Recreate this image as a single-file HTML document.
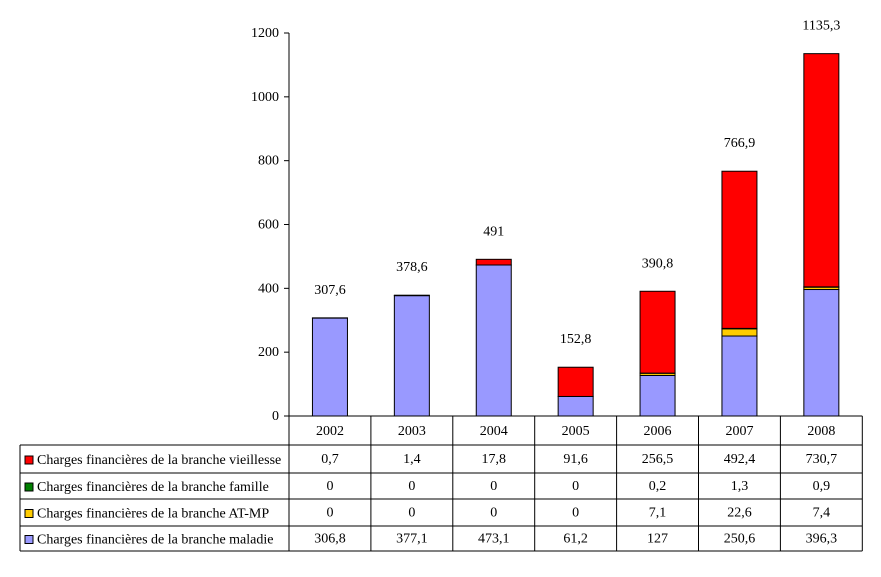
<!DOCTYPE html>
<html><head><meta charset="utf-8"><style>
body{margin:0;background:#fff}
svg text{font-family:"Liberation Serif","Times New Roman",serif !important;font-size:14px;fill:#000}
</style></head><body>
<svg id="c" width="881" height="572" font-family="Liberation Serif, serif"></svg>
<script>
const years=["2002","2003","2004","2005","2006","2007","2008"];
const totals=["307,6","378,6","491","152,8","390,8","766,9","1135,3"];
const vieillesse=[0.7,1.4,17.8,91.6,256.5,492.4,730.7];
const famille=[0,0,0,0,0.2,1.3,0.9];
const atmp=[0,0,0,0,7.1,22.6,7.4];
const maladie=[306.8,377.1,473.1,61.2,127,250.6,396.3];
const yTicks=[0,200,400,600,800,1000,1200];
const svg=document.getElementById('c');const NS='http://www.w3.org/2000/svg';
function mk(t,a,p){const e=document.createElementNS(NS,t);for(const k in a)e.setAttribute(k,a[k]);if(t==='text')e.setAttribute('font-family','Liberation Serif, serif');(p||svg).appendChild(e);return e;}
const x0=289,colW=81.9,y0=416,yTop=33;
const Y=v=>y0-(v/1200)*(y0-yTop);
const X=i=>x0+colW*i+colW/2;
let ax=mk('line',{x1:x0,y1:yTop,x2:x0,y2:y0,stroke:'#000'});

yTicks.forEach(t=>{
 mk('line',{x1:x0-5,x2:x0,y1:Y(t),y2:Y(t),stroke:'#000'});
 const tx=mk('text',{x:x0-10,y:Y(t)+4,'text-anchor':'end'});tx.textContent=t;
 
});
const series=[[maladie,'#9999ff','maladie'],[atmp,'#ffcc00','at-mp'],[famille,'#008000','famille'],[vieillesse,'#ff0000','vieillesse']];
years.forEach((yr,i)=>{
 let base=0;
 series.forEach(([arr,col,nm])=>{
  const v=arr[i];if(v<=0)return;
  const r=mk('rect',{x:X(i)-17.5,y:Y(base+v),width:35,height:Y(base)-Y(base+v),fill:col,stroke:'#000','stroke-width':1});
  
  base+=v;
 });
 const t=mk('text',{x:X(i),y:Y(base)-24,'text-anchor':'middle'});t.textContent=totals[i];
 
});
const rows=[445,473,499,526,551];
const L=20,R=x0+colW*7;
mk('line',{x1:x0,y1:y0,x2:R,y2:y0,stroke:'#000'});
rows.forEach(y=>mk('line',{x1:L,y1:y,x2:R,y2:y,stroke:'#000'}));
mk('line',{x1:L,y1:445,x2:L,y2:551,stroke:'#000'});
for(let i=0;i<=7;i++)mk('line',{x1:x0+colW*i,y1:y0,x2:x0+colW*i,y2:551,stroke:'#000'});
years.forEach((yr,i)=>{const t=mk('text',{x:X(i),y:435,'text-anchor':'middle'});t.textContent=yr;
 });
const tbl=[[vieillesse,'#ff0000','Charges financières de la branche vieillesse'],[famille,'#008000','Charges financières de la branche famille'],[atmp,'#ffcc00','Charges financières de la branche AT-MP'],[maladie,'#9999ff','Charges financières de la branche maladie']];
tbl.forEach(([arr,col,lab],r)=>{
 const ym=(rows[r]+rows[r+1])/2;
 const k=mk('rect',{x:25,y:ym-3,width:8,height:8,fill:col,stroke:'#000'});
 
 const t=mk('text',{x:37,y:ym+5});t.textContent=lab;
 
 arr.forEach((v,i)=>{const c=mk('text',{x:X(i),y:ym+4,'text-anchor':'middle'});c.textContent=String(v).replace('.',',');
  });
});
</script>
</body></html>
